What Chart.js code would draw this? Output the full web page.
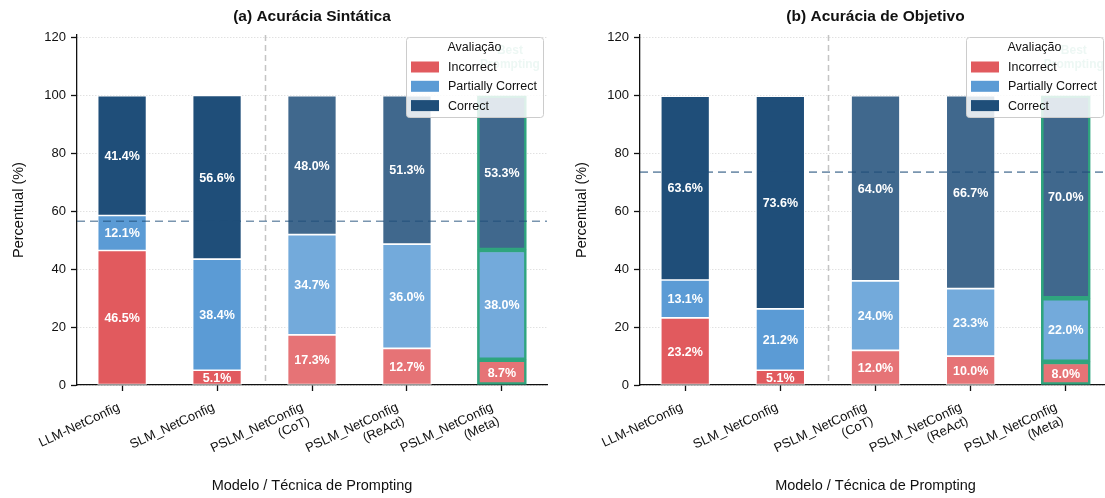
<!DOCTYPE html>
<html>
<head>
<meta charset="utf-8">
<script src="https://cdn.jsdelivr.net/npm/chart.js@4.4.1/dist/chart.umd.min.js"></script>
<style>
  html, body { margin: 0; padding: 0; background: #ffffff; }
  #wrap { position: relative; width: 1105px; height: 498px; overflow: hidden; }
  #c1 { position: absolute; left: 0; top: 0; }
  #c2 { position: absolute; left: 563px; top: 0; }
</style>
</head>
<body>
<div id="wrap">
  <canvas id="c1" width="552" height="498"></canvas>
  <canvas id="c2" width="552" height="498"></canvas>
</div>
<script>
// Models / prompting techniques on the x axis
const categories = [
  'LLM-NetConfig',
  'SLM_NetConfig',
  ['PSLM_NetConfig', '(CoT)'],
  ['PSLM_NetConfig', '(ReAct)'],
  ['PSLM_NetConfig', '(Meta)']
];
const seriesNames = ['Incorrect', 'Partially Correct', 'Correct'];

// (a) Syntactic accuracy, percent per model
const synIncorrect = [46.5, 5.1, 17.3, 12.7, 8.7];
const synPartial   = [12.1, 38.4, 34.7, 36.0, 38.0];
const synCorrect   = [41.4, 56.6, 48.0, 51.3, 53.3];

// (b) Goal accuracy, percent per model
const goalIncorrect = [23.2, 5.1, 12.0, 10.0, 8.0];
const goalPartial   = [13.1, 21.2, 24.0, 23.3, 22.0];
const goalCorrect   = [63.6, 73.6, 64.0, 66.7, 70.0];

const yTicks = [0, 20, 40, 60, 80, 100, 120];
const baselineIndex = 1;   // SLM_NetConfig is the reference line
const bestIndex = 4;       // best prompting technique
const firstPromptedIndex = 2;

const FONT = "'Liberation Sans', Arial, Helvetica, sans-serif";
const baseColors = ['#E15A5E', '#5B9BD5', '#1F4E79'];
const promptedColors = ['#E67376', '#73AADB', '#40688D'];
const bestEdge = '#2FA57E';
const LABEL_ROT = 25 * Math.PI / 180;

function makeDatasets(series) {
  return series.map((vals, s) => ({
    label: seriesNames[s],
    data: vals.map((v, i) => ({ x: i, y: v })),
    backgroundColor: ctx => (ctx.dataIndex >= firstPromptedIndex ? promptedColors[s] : baseColors[s]),
    borderColor: ctx => (ctx.dataIndex === bestIndex ? bestEdge : '#ffffff'),
    borderWidth: ctx => (ctx.dataIndex === bestIndex ? 2.6 : 1.2),
    borderSkipped: false,
    barThickness: 49
  }));
}

const overlayPlugin = {
  id: 'overlay',
  afterDatasetsDraw(chart, args, opts) {
    const { ctx, chartArea: ca, scales: { x, y } } = chart;
    ctx.save();
    // separator between baselines and prompted variants
    ctx.strokeStyle = '#c4c4c4';
    ctx.lineWidth = 1.5;
    ctx.setLineDash([6, 4]);
    const sx = Math.round(x.getPixelForValue(1.5)) + 0.5;
    ctx.beginPath(); ctx.moveTo(sx, ca.top); ctx.lineTo(sx, ca.bottom); ctx.stroke();
    // reference line at the SLM "Correct" share
    const by = y.getPixelForValue(opts.baseline);
    ctx.strokeStyle = 'rgba(31,78,121,0.6)';
    ctx.lineWidth = 1.6;
    ctx.setLineDash([8, 5]);
    ctx.beginPath(); ctx.moveTo(ca.left, by); ctx.lineTo(ca.right, by); ctx.stroke();
    ctx.setLineDash([]);
    // value labels inside each segment
    ctx.fillStyle = '#ffffff';
    ctx.font = `bold 12.5px ${FONT}`;
    ctx.textAlign = 'center';
    ctx.textBaseline = 'middle';
    chart.data.datasets.forEach((ds, di) => {
      chart.getDatasetMeta(di).data.forEach((el, i) => {
        const v = ds.data[i].y;
        ctx.fillText(v.toFixed(1) + '%', el.x, (el.y + el.base) / 2 + 1);
      });
    });
    ctx.restore();
  },
  afterDraw(chart, args, opts) {
    const { ctx, chartArea: ca, scales: { x, y } } = chart;
    ctx.save();
    // rotated category labels: block's top-right corner sits under its tick
    ctx.fillStyle = '#111';
    ctx.font = `13px ${FONT}`;
    const cos = Math.cos(LABEL_ROT), sin = Math.sin(LABEL_ROT);
    const lh = 15;
    const top = ca.bottom + 15;
    categories.forEach((c, i) => {
      const lines = Array.isArray(c) ? c : [c];
      const W = Math.max(...lines.map(l => ctx.measureText(l).width));
      const H = lines.length * lh;
      const tx = x.getPixelForValue(i);
      ctx.save();
      ctx.translate(tx - W * cos - H * sin, top + W * sin);
      ctx.rotate(-LABEL_ROT);
      ctx.textAlign = 'right';
      ctx.textBaseline = 'top';
      lines.forEach((l, k) => ctx.fillText(l, W, k * lh + 1));
      ctx.restore();
    });

    // panel title
    ctx.fillStyle = '#111';
    ctx.font = `bold 15.5px ${FONT}`;
    ctx.textAlign = 'center';
    ctx.textBaseline = 'middle';
    ctx.fillText(opts.title, (ca.left + ca.right) / 2, 17);
    // marker text above the best technique
    ctx.fillStyle = 'rgba(47,165,126,0.55)';
    ctx.font = `bold 12px ${FONT}`;
    const bx = x.getPixelForValue(bestIndex);
    ctx.fillText('Best', bx + 8, y.getPixelForValue(100) - 45);
    ctx.fillText('Prompting', bx + 8, y.getPixelForValue(100) - 31);

    // legend box, upper right
    const w = 137, h = 80;
    const lx = ca.right - opts.legendInset - w, ly = 37;
    ctx.fillStyle = 'rgba(255,255,255,0.84)';
    ctx.strokeStyle = '#cccccc';
    ctx.lineWidth = 1;
    ctx.beginPath();
    ctx.roundRect(lx + 0.5, ly + 0.5, w, h, 3);
    ctx.fill(); ctx.stroke();
    ctx.fillStyle = '#111';
    ctx.font = `12.5px ${FONT}`;
    ctx.textAlign = 'center';
    ctx.fillText('Avaliação', lx + w / 2, ly + 11);
    ctx.textAlign = 'left';
    seriesNames.forEach((name, s) => {
      const ry = ly + 30 + s * 19.3;
      ctx.fillStyle = baseColors[s];
      ctx.fillRect(lx + 5, ry - 5.5, 28, 11);
      ctx.fillStyle = '#111';
      ctx.fillText(name, lx + 42, ry + 0.5);
    });
    ctx.restore();
  }
};

function makeChart(id, series, title, padRight, legendInset) {
  return new Chart(document.getElementById(id), {
    type: 'bar',
    data: { datasets: makeDatasets(series) },
    plugins: [overlayPlugin],
    options: {
      responsive: false,
      animation: false,
      devicePixelRatio: 1,
      layout: { padding: { top: 35, right: padRight, left: 0, bottom: 0 } },
      plugins: {
        legend: { display: false },
        tooltip: { enabled: false },
        overlay: { title: title, baseline: series[2][baselineIndex], legendInset: legendInset }
      },
      scales: {
        x: {
          type: 'linear',
          stacked: true,
          offset: false,
          min: -0.475,
          max: 4.475,
          afterBuildTicks: s => { s.ticks = categories.map((c, i) => ({ value: i })); },
          afterFit: s => { s.height = 113; },
          ticks: { display: false },
          grid: { offset: false, drawOnChartArea: false, drawTicks: true, tickLength: 6, tickColor: '#111', tickWidth: 1.3 },
          border: { display: true, color: '#111', width: 1.3 },
          title: {
            display: true,
            text: 'Modelo / Técnica de Prompting',
            color: '#111',
            font: { family: FONT, size: 14.5 },
            padding: { top: 0, bottom: 3 }
          }
        },
        y: {
          stacked: true,
          min: 0,
          max: 121,
          afterBuildTicks: s => { s.ticks = yTicks.map(v => ({ value: v })); },
          afterFit: s => { s.width = 77; },
          ticks: {
            color: '#111',
            font: { family: FONT, size: 13 },
            padding: 5
          },
          grid: { color: '#d4d4d4', lineWidth: 1, drawTicks: true, tickLength: 6, tickColor: '#111', tickWidth: 1.3 },
          border: { display: true, color: '#111', width: 1.3, dash: [1, 2] },
          title: {
            display: true,
            text: 'Percentual (%)',
            color: '#111',
            font: { family: FONT, size: 14.5 },
            padding: { top: 10, bottom: 0 }
          }
        }
      }
    }
  });
}

makeChart('c1', [synIncorrect, synPartial, synCorrect], '(a) Acurácia Sintática', 5, 4);
makeChart('c2', [goalIncorrect, goalPartial, goalCorrect], '(b) Acurácia de Objetivo', 4, 8);
</script>
</body>
</html>
